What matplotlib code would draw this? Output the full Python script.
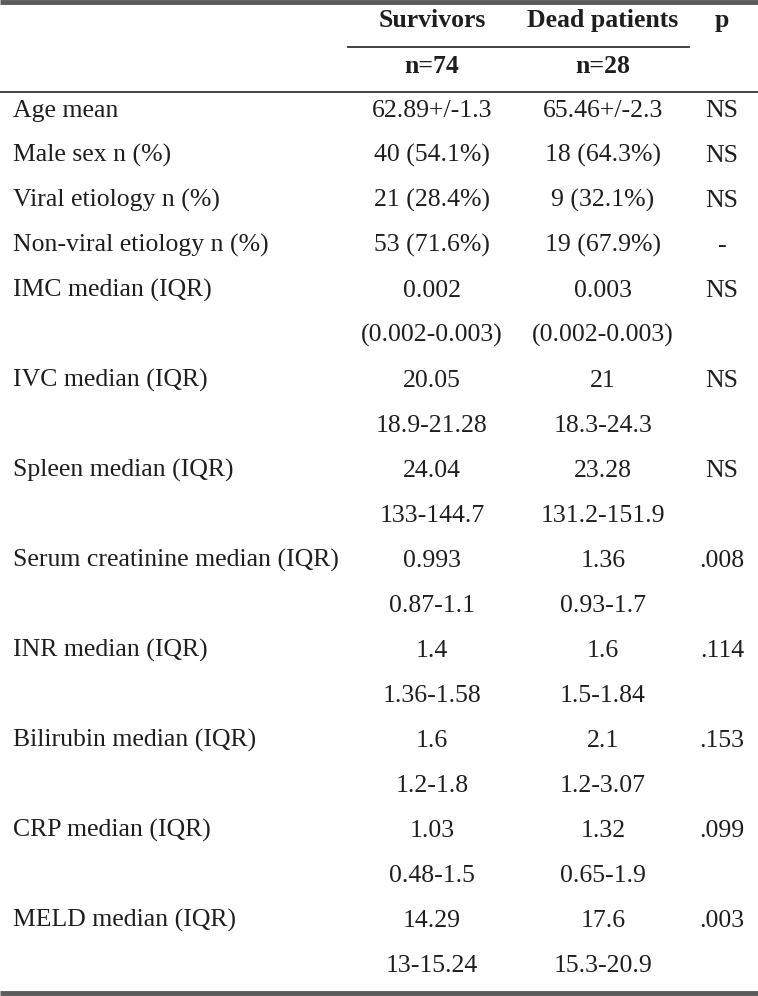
import matplotlib
matplotlib.use("Agg")
import matplotlib.pyplot as plt

# table content
row_labels = ["Age mean", "Male sex n (%)", "Viral etiology n (%)",
              "Non-viral etiology n (%)", "IMC median (IQR)", "IVC median (IQR)",
              "Spleen median (IQR)", "Serum creatinine median (IQR)",
              "INR median (IQR)", "Bilirubin median (IQR)", "CRP median (IQR)",
              "MELD median (IQR)"]
survivors = ["62.89+/-1.3", "40 (54.1%)", "21 (28.4%)", "53 (71.6%)", "0.002",
             "20.05", "24.04", "0.993", "1.4", "1.6", "1.03", "14.29"]
survivors_iqr = ["", "", "", "", "(0.002-0.003)", "18.9-21.28", "133-144.7",
                 "0.87-1.1", "1.36-1.58", "1.2-1.8", "0.48-1.5", "13-15.24"]
dead = ["65.46+/-2.3", "18 (64.3%)", "9 (32.1%)", "19 (67.9%)", "0.003",
        "21", "23.28", "1.36", "1.6", "2.1", "1.32", "17.6"]
dead_iqr = ["", "", "", "", "(0.002-0.003)", "18.3-24.3", "131.2-151.9",
            "0.93-1.7", "1.5-1.84", "1.2-3.07", "0.65-1.9", "15.3-20.9"]
p_values = ["NS", "NS", "NS", "-", "NS", "NS", "NS", ".008", ".114", ".153",
            ".099", ".003"]
headers = ["Survivors", "Dead patients", "p"]
n_counts = ["n=74", "n=28"]

plt.rcParams['font.family'] = ['Liberation Serif', 'DejaVu Serif']
W, H = 758, 996
fig = plt.figure(figsize=(W / 100, H / 100), dpi=100)
ax = fig.add_axes([0, 0, 1, 1])
ax.set_xlim(0, W)
ax.set_ylim(H, 0)
ax.axis("off")

txt = "#1e1e1e"
fs = 18.5
col_x = [432, 603, 722]

# rules
ax.plot([0, W], [2, 2], color="#5a5a5a", lw=3.5, solid_capstyle="butt")
ax.plot([348, 689], [47, 47], color="#333333", lw=1.3)
ax.plot([0, W], [92, 92], color="#333333", lw=1.3)
ax.plot([0, W], [993, 993], color="#5a5a5a", lw=3.5, solid_capstyle="butt")

kw = dict(va="baseline", fontsize=fs, color=txt)

# header
for x, h in zip(col_x, headers):
    ax.text(x, 27, h, ha="center", weight="bold", **kw)
for x, n in zip(col_x, n_counts):
    ax.text(x, 73, n, ha="center", weight="bold", **kw)

# body rows: first four single-line, rest with IQR line
y = 117
for i, lab in enumerate(row_labels):
    ax.text(13, y, lab, ha="left", **kw)
    ax.text(col_x[0], y, survivors[i], ha="center", **kw)
    ax.text(col_x[1], y, dead[i], ha="center", **kw)
    ax.text(col_x[2], y, p_values[i], ha="center", **kw)
    if survivors_iqr[i]:
        y += 45
        ax.text(col_x[0], y, survivors_iqr[i], ha="center", **kw)
        ax.text(col_x[1], y, dead_iqr[i], ha="center", **kw)
    y += 45

fig.savefig("out.png", dpi=100)
